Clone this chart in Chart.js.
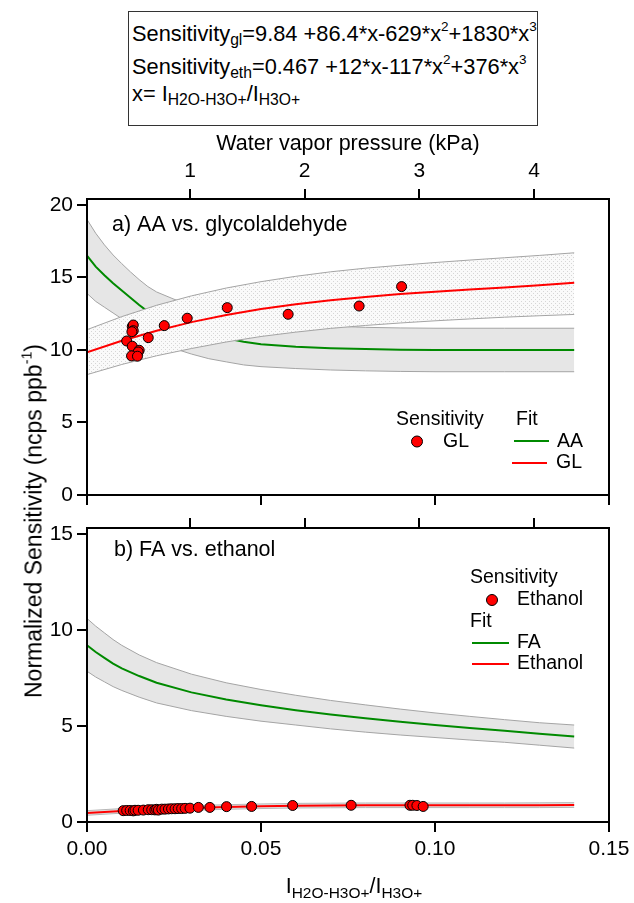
<!DOCTYPE html>
<html lang="en">
<head>
<meta charset="utf-8">
<title>Normalized sensitivity vs. water</title>
<script src="https://cdn.jsdelivr.net/npm/chart.js@4.4.1/dist/chart.umd.min.js"></script>
<style>
  html, body { margin: 0; padding: 0; background: #fff; }
  #page { position: relative; width: 634px; height: 903px; overflow: hidden; font-family: 'Liberation Sans', Arial, sans-serif; color: #000; }
  #page canvas { position: absolute; left: 0; }
  #chartA { top: 120px; }
  #chartB { top: 514px; }
  sup, sub { line-height: 0; }
  #eqBox { position: absolute; left: 128px; top: 11px; width: 410px; height: 115px; box-sizing: border-box; border: 1.5px solid #333; font-size: 21.8px; }
  #eqBox .eq { position: absolute; left: 3px; white-space: nowrap; line-height: 1; }
  #eqBox sup { font-size: 0.62em; vertical-align: 0.75em; }
  #eqBox sub { font-size: 0.72em; vertical-align: -0.28em; }
  #yTitle { position: absolute; left: 34px; top: 521px; transform: translate(-50%, -50%) rotate(-90deg); white-space: nowrap; font-size: 23px; line-height: 1; }
  #yTitle sup { font-size: 0.62em; vertical-align: 0.7em; }
  #xTitle { position: absolute; left: 354px; top: 876px; transform: translateX(-50%); white-space: nowrap; font-size: 21.5px; line-height: 1; }
  #xTitle sub { font-size: 0.72em; vertical-align: -0.3em; }
</style>
</head>
<body>
<div id="page">
  <div id="eqBox">
    <div class="eq" style="top:11px">Sensitivity<sub>gl</sub>=9.84 +86.4*x-629*x<sup>2</sup>+1830*x<sup>3</sup></div>
    <div class="eq" style="top:44px">Sensitivity<sub>eth</sub>=0.467 +12*x-117*x<sup>2</sup>+376*x<sup>3</sup></div>
    <div class="eq" style="top:71px">x= I<sub>H2O-H3O+</sub>/I<sub>H3O+</sub></div>
  </div>
  <canvas id="chartA" width="634" height="390"></canvas>
  <canvas id="chartB" width="634" height="389"></canvas>
  <div id="yTitle">Normalized Sensitivity (ncps ppb<sup>-1</sup>)</div>
  <div id="xTitle">I<sub>H2O-H3O+</sub>/I<sub>H3O+</sub></div>
</div>
<script>
// shared axes
const xTicks = [0, 0.05, 0.10, 0.15];
const kpaTicks = [1, 2, 3, 4];
const yTicksA = [0, 5, 10, 15, 20];
const yTicksB = [0, 5, 10, 15];

// a) glycolaldehyde measurements
const glX = [0.0130, 0.0133, 0.0133, 0.0129, 0.0114, 0.0130, 0.0150, 0.0147, 0.0128, 0.0145, 0.0176, 0.0222, 0.0288, 0.0403, 0.0578, 0.0782, 0.0904];
const glY = [11.61, 11.72, 11.33, 11.26, 10.62, 10.26, 9.98, 9.86, 9.59, 9.57, 10.85, 11.68, 12.19, 12.92, 12.46, 13.03, 14.37];

// a) cubic fit for GL and its band
const fitX = [0, 0.01, 0.02, 0.03, 0.04, 0.05, 0.06, 0.07, 0.08, 0.09, 0.10, 0.11, 0.12, 0.13, 0.14];
const glFit = [9.84, 10.64, 11.33, 11.92, 12.41, 12.82, 13.16, 13.43, 13.66, 13.86, 14.02, 14.17, 14.31, 14.46, 14.63];
const glUpper = [11.40, 12.30, 13.08, 13.73, 14.27, 14.71, 15.08, 15.39, 15.64, 15.84, 16.03, 16.20, 16.36, 16.52, 16.70];
const glLower = [8.30, 9.00, 9.60, 10.10, 10.55, 10.93, 11.23, 11.49, 11.69, 11.86, 12.01, 12.14, 12.26, 12.36, 12.45];

// a) acetic acid fit and band
const aaX = [0, 0.0025, 0.005, 0.0075, 0.01, 0.0125, 0.015, 0.0175, 0.02, 0.025, 0.03, 0.035, 0.04, 0.045, 0.05, 0.06, 0.07, 0.08, 0.09, 0.10, 0.12, 0.14];
const aaFit = [16.5, 15.75, 15.15, 14.6, 14.1, 13.6, 13.1, 12.65, 12.3, 11.8, 11.4, 11.05, 10.8, 10.57, 10.4, 10.22, 10.12, 10.06, 10.02, 10.0, 10.0, 10.0];
const aaUpper = [19.0, 18.05, 17.25, 16.55, 15.95, 15.38, 14.85, 14.37, 14.0, 13.5, 13.08, 12.7, 12.42, 12.17, 12.0, 11.8, 11.65, 11.56, 11.52, 11.5, 11.5, 11.5];
const aaLower = [13.9, 13.35, 12.95, 12.55, 12.15, 11.75, 11.3, 10.9, 10.58, 10.1, 9.72, 9.4, 9.18, 8.97, 8.85, 8.72, 8.62, 8.56, 8.52, 8.5, 8.5, 8.5];

// b) ethanol measurements, fit and band
const ethX = [0.0104, 0.0114, 0.0124, 0.0133, 0.0138, 0.0147, 0.0162, 0.0176, 0.0186, 0.0195, 0.0200, 0.0205, 0.0215, 0.0224, 0.0234, 0.0243, 0.0253, 0.0262, 0.0272, 0.0282, 0.0296, 0.0320, 0.0353, 0.0401, 0.0473, 0.0591, 0.0759, 0.0928, 0.0936, 0.0948, 0.0966];
const ethY = [0.59, 0.60, 0.60, 0.58, 0.61, 0.61, 0.62, 0.64, 0.64, 0.63, 0.66, 0.62, 0.67, 0.67, 0.68, 0.69, 0.69, 0.70, 0.70, 0.71, 0.72, 0.76, 0.76, 0.80, 0.81, 0.86, 0.87, 0.87, 0.87, 0.86, 0.81];
const ethFit = [0.467, 0.576, 0.663, 0.732, 0.784, 0.822, 0.847, 0.863, 0.871, 0.873, 0.873, 0.872, 0.872, 0.876, 0.886];
const ethUpper = [0.59, 0.70, 0.78, 0.85, 0.90, 0.94, 0.97, 0.98, 0.99, 0.99, 0.99, 0.99, 0.99, 1.00, 1.01];
const ethLower = [0.35, 0.46, 0.54, 0.61, 0.66, 0.70, 0.73, 0.74, 0.75, 0.75, 0.75, 0.75, 0.75, 0.75, 0.76];

// b) formic acid fit and band
const faX = [0, 0.0025, 0.005, 0.0075, 0.01, 0.015, 0.02, 0.03, 0.04, 0.05, 0.06, 0.07, 0.08, 0.09, 0.10, 0.11, 0.12, 0.13, 0.14];
const faFit = [9.2, 8.85, 8.55, 8.25, 8.0, 7.6, 7.25, 6.75, 6.38, 6.08, 5.82, 5.6, 5.4, 5.22, 5.05, 4.9, 4.75, 4.6, 4.45];
const faUpper = [10.6, 10.2, 9.85, 9.5, 9.2, 8.7, 8.3, 7.7, 7.25, 6.9, 6.6, 6.33, 6.1, 5.88, 5.68, 5.5, 5.33, 5.17, 5.05];
const faLower = [7.85, 7.55, 7.3, 7.05, 6.85, 6.5, 6.2, 5.8, 5.5, 5.25, 5.05, 4.85, 4.68, 4.53, 4.4, 4.27, 4.15, 4.0, 3.85];

const FONT = "'Liberation Sans', Arial, sans-serif";
const RED = '#ff0000';
const GREEN = '#008a00';
const EDGE = '#a4a4a4';
Chart.defaults.font.family = FONT;
Chart.defaults.color = '#000';

const tickFont = { family: FONT, size: 21 };
const tickMarks = { drawOnChartArea: false, tickLength: 10, color: '#000', lineWidth: 2 };

const toPoints = (xs, ys) => xs.map((x, i) => ({ x, y: ys[i] }));

function fixSize(size) {
  return (scale) => {
    if (scale.isHorizontal()) scale.height = size;
    else scale.width = size;
    scale.paddingLeft = 0;
    scale.paddingRight = 0;
    scale.paddingTop = 0;
    scale.paddingBottom = 0;
  };
}

function setTicks(values) {
  return (scale) => {
    scale.ticks = values.map((value) => ({ value }));
  };
}

function lineSet(label, xs, ys, color, width, order, extra) {
  return Object.assign({
    label,
    data: toPoints(xs, ys),
    borderColor: color,
    borderWidth: width,
    pointRadius: 0,
    tension: 0,
    fill: false,
    order,
  }, extra || {});
}

function markerSet(label, xs, ys) {
  return {
    label,
    data: toPoints(xs, ys),
    showLine: false,
    pointRadius: 5,
    pointBackgroundColor: RED,
    pointBorderColor: '#000',
    pointBorderWidth: 1,
    order: 0,
  };
}

function dotPattern(canvas) {
  const tile = document.createElement('canvas');
  tile.width = 4;
  tile.height = 4;
  const c = tile.getContext('2d');
  c.fillStyle = '#fafafa';
  c.fillRect(0, 0, 4, 4);
  c.fillStyle = '#d6d6d6';
  c.fillRect(1, 1, 1, 1);
  c.fillRect(3, 3, 1, 1);
  return canvas.getContext('2d').createPattern(tile, 'repeat');
}

// frame round the plot area, panel label and legend; items are in page pixels
function notes(offset, items) {
  return {
    id: 'notes',
    afterDatasetsDraw(chart) {
      const { ctx, chartArea: a } = chart;
      ctx.save();
      ctx.strokeStyle = '#000';
      ctx.lineWidth = 2;
      ctx.strokeRect(a.left, a.top, a.right - a.left, a.bottom - a.top);
      items.forEach((item) => {
        const y = item.y - offset;
        if (item.text) {
          ctx.font = `${item.size || 19.5}px ${FONT}`;
          ctx.fillStyle = '#000';
          ctx.textAlign = 'left';
          ctx.textBaseline = 'middle';
          ctx.fillText(item.text, item.x, y);
        } else if (item.line) {
          ctx.strokeStyle = item.line;
          ctx.lineWidth = 2;
          ctx.beginPath();
          ctx.moveTo(item.x, y);
          ctx.lineTo(item.x2, y);
          ctx.stroke();
        } else if (item.dot) {
          ctx.beginPath();
          ctx.arc(item.x, y, 5.5, 0, Math.PI * 2);
          ctx.fillStyle = RED;
          ctx.fill();
          ctx.strokeStyle = '#000';
          ctx.lineWidth = 1;
          ctx.stroke();
        }
      });
      ctx.restore();
    },
  };
}

function xAxis(height, withLabels) {
  return {
    type: 'linear',
    position: 'bottom',
    min: 0,
    max: 0.15,
    afterBuildTicks: setTicks(xTicks),
    ticks: { display: withLabels, font: tickFont, color: '#000', padding: 5, callback: (v) => Number(v).toFixed(2) },
    grid: tickMarks,
    border: { display: false },
    afterFit: fixSize(height),
  };
}

function kpaAxis(height, withLabels) {
  const axis = {
    type: 'linear',
    position: 'top',
    min: 0.102,
    max: 4.654,
    afterBuildTicks: setTicks(kpaTicks),
    ticks: { display: withLabels, font: tickFont, color: '#000', padding: 5 },
    grid: tickMarks,
    border: { display: false },
    afterFit: fixSize(height),
  };
  if (withLabels) {
    axis.title = {
      display: true,
      text: 'Water vapor pressure (kPa)',
      font: { family: FONT, size: 21.5 },
      color: '#000',
      padding: { top: 11, bottom: 0 },
    };
  }
  return axis;
}

function yAxis(max, values) {
  return {
    type: 'linear',
    min: 0,
    max,
    afterBuildTicks: setTicks(values),
    ticks: { font: tickFont, color: '#000', padding: 4 },
    grid: tickMarks,
    border: { display: false },
    afterFit: fixSize(87),
  };
}

function baseOptions(scales) {
  return {
    responsive: false,
    animation: false,
    devicePixelRatio: 1,
    layout: { padding: { left: 0, right: 25, top: 0, bottom: 0 } },
    plugins: { legend: { display: false }, tooltip: { enabled: false } },
    scales,
  };
}

function buildPanelA() {
  const canvas = document.getElementById('chartA');
  new Chart(canvas, {
    type: 'line',
    data: {
      datasets: [
        markerSet('GL', glX, glY),
        lineSet('GL fit', fitX, glFit, RED, 2, 1),
        lineSet('GL lower', fitX, glLower, EDGE, 1, 2),
        lineSet('GL upper', fitX, glUpper, EDGE, 1, 3, { fill: '-1', backgroundColor: dotPattern(canvas) }),
        lineSet('AA fit', aaX, aaFit, GREEN, 2, 4),
        lineSet('AA lower', aaX, aaLower, EDGE, 1, 5),
        lineSet('AA upper', aaX, aaUpper, EDGE, 1, 6, { fill: '-1', backgroundColor: '#e6e6e6' }),
      ],
    },
    options: baseOptions({
      x: xAxis(15, false),
      kpa: kpaAxis(79, true),
      y: yAxis(20.41, yTicksA),
    }),
    plugins: [notes(120, [
      { text: 'a) AA vs. glycolaldehyde', x: 112, y: 225, size: 21.5 },
      { text: 'Sensitivity', x: 396, y: 420 },
      { dot: true, x: 417, y: 441.5 },
      { text: 'GL', x: 443, y: 441.5 },
      { text: 'Fit', x: 516, y: 420 },
      { line: GREEN, x: 514, x2: 549, y: 441 },
      { text: 'AA', x: 557, y: 441.5 },
      { line: RED, x: 512, x2: 547, y: 463 },
      { text: 'GL', x: 556, y: 463 },
    ])],
  });
}

function buildPanelB() {
  const canvas = document.getElementById('chartB');
  new Chart(canvas, {
    type: 'line',
    data: {
      datasets: [
        markerSet('Ethanol', ethX, ethY),
        lineSet('Ethanol fit', fitX, ethFit, RED, 2, 1),
        lineSet('Ethanol lower', fitX, ethLower, '#b8b8b8', 1, 2),
        lineSet('Ethanol upper', fitX, ethUpper, '#b8b8b8', 1, 3, { fill: '-1', backgroundColor: '#e2e2e2' }),
        lineSet('FA fit', faX, faFit, GREEN, 2, 4),
        lineSet('FA lower', faX, faLower, EDGE, 1, 5),
        lineSet('FA upper', faX, faUpper, EDGE, 1, 6, { fill: '-1', backgroundColor: '#e6e6e6' }),
      ],
    },
    options: baseOptions({
      x: xAxis(81, true),
      kpa: kpaAxis(14, false),
      y: yAxis(15.31, yTicksB),
    }),
    plugins: [notes(514, [
      { text: 'b) FA vs. ethanol', x: 114, y: 550, size: 21.5 },
      { text: 'Sensitivity', x: 470, y: 578 },
      { dot: true, x: 492, y: 600 },
      { text: 'Ethanol', x: 517, y: 600 },
      { text: 'Fit', x: 470, y: 622 },
      { line: GREEN, x: 472, x2: 509, y: 643 },
      { text: 'FA', x: 517, y: 643 },
      { line: RED, x: 472, x2: 509, y: 664 },
      { text: 'Ethanol', x: 517, y: 664 },
    ])],
  });
}

buildPanelA();
buildPanelB();
</script>
</body>
</html>
